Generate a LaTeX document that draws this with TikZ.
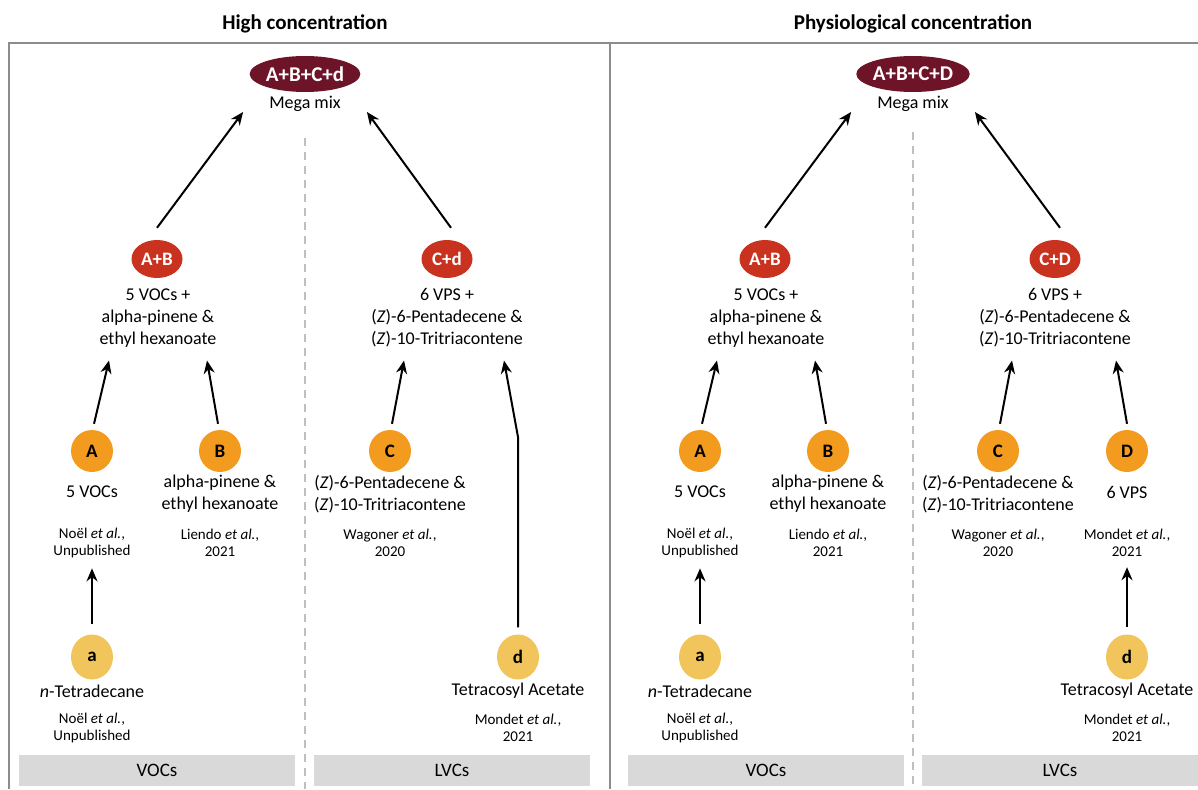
\documentclass[tikz,border=0pt]{standalone}
\usepackage{fontspec}
\setmainfont{Carlito}
\usetikzlibrary{arrows,arrows.meta,shapes.geometric,positioning}
\definecolor{granate}{HTML}{6E1429}
\definecolor{rojo}{HTML}{C8321E}
\definecolor{naranja}{HTML}{F29B1F}
\definecolor{amarillo}{HTML}{F1C55C}
\definecolor{grismarco}{HTML}{8C8C8C}
\definecolor{grisclaro}{HTML}{BFBFBF}
\definecolor{grisfondo}{HTML}{D9D9D9}
\tikzstyle{elipsegranate} = [ellipse, fill=granate, text=white, inner sep=0pt, minimum width=105pt, minimum height=36pt, font=\fontsize{21}{24}\selectfont\bfseries]
\tikzstyle{elipseroja} = [ellipse, fill=rojo, text=white, inner sep=0pt, minimum width=51pt, minimum height=38pt, font=\fontsize{19}{22}\selectfont\bfseries]
\tikzstyle{circnaranja} = [circle, fill=naranja, inner sep=0pt, minimum size=42pt, font=\fontsize{19}{22}\selectfont\bfseries]
\tikzstyle{circamarillo} = [ellipse, fill=amarillo, inner sep=0pt, minimum width=42pt, minimum height=45pt, font=\fontsize{19}{22}\selectfont\bfseries]
\tikzstyle{texto} = [align=center, inner sep=0pt, font=\fontsize{18}{22}\selectfont]
\tikzstyle{cita} = [align=center, inner sep=0pt, font=\fontsize{15}{17.5}\selectfont]
\tikzstyle{titulo} = [inner sep=0pt, font=\fontsize{21}{24}\selectfont\bfseries]
\tikzstyle{rectgris} = [rectangle, fill=grisfondo, inner sep=0pt, minimum width=276pt, minimum height=31pt, font=\fontsize{19}{22}\selectfont]
\tikzstyle{flecha} = [line width=2pt, ->, >={Stealth[length=13pt,width=11pt]}]
\tikzstyle{marco} = [draw=grismarco, line width=1.8pt]
\tikzstyle{divisor} = [draw=grisclaro, line width=1.5pt, dash pattern=on 8pt off 6pt]

\begin{document}
\begin{tikzpicture}[x=1pt, y=-1pt]
	\useasboundingbox (0,0) rectangle (1198,789);
	% Marcos
	\draw[marco] (9,789) -- (9,43) -- (1198,43);
	\draw[marco] (610,43) -- (610,789);
	\draw[divisor] (305,138) -- (305,789);
	\draw[divisor] (913,132) -- (913,789);
	\node (tit1) [titulo] at (305,24) {High concentration};
	\node (tit2) [titulo] at (913,24) {Physiological concentration};
	% Concentracion alta
	\node (mix1) [elipsegranate] at (305,74) {A+B+C+d};
	\node (mixtxt1) [texto] at (305,104) {Mega mix};
	\node (ab1) [elipseroja] at (157,259) {A+B};
	\node (abtxt1) [texto] at (158,318) {5 VOCs +\\alpha-pinene \&\\ethyl hexanoate};
	\node (cd1) [elipseroja] at (447,259) {C+d};
	\node (cdtxt1) [texto] at (447,318) {6 VPS +\\(\textit{Z})-6-Pentadecene \&\\(\textit{Z})-10-Tritriacontene};
	\node (A1) [circnaranja] at (92,451) {A};
	\node (Atxt1) [texto] at (92,492) {5 VOCs};
	\node (Acit1) [cita] at (92,543) {Noël \textit{et al.},\\Unpublished};
	\node (B1) [circnaranja] at (220,451) {B};
	\node (Btxt1) [texto] at (220,494) {alpha-pinene \&\\ethyl hexanoate};
	\node (Bcit1) [cita] at (220,543) {Liendo \textit{et al.},\\2021};
	\node (C1) [circnaranja] at (390,451) {C};
	\node (Ctxt1) [texto] at (390,494) {(\textit{Z})-6-Pentadecene \&\\(\textit{Z})-10-Tritriacontene};
	\node (Ccit1) [cita] at (390,543) {Wagoner \textit{et al.},\\2020};
	\node (a1) [circamarillo] at (92,657) {a};
	\node (atxt1) [texto] at (92,691) {\textit{n}-Tetradecane};
	\node (acit1) [cita] at (92,728) {Noël \textit{et al.},\\Unpublished};
	\node (d1) [circamarillo] at (518,657) {d};
	\node (dtxt1) [texto] at (518,691) {Tetracosyl Acetate};
	\node (dcit1) [cita] at (518,728) {Mondet \textit{et al.},\\2021};
	\node (voc1) [rectgris] at (157,770) {VOCs};
	\node (lvc1) [rectgris] at (452,770) {LVCs};
	% Flechas
	\draw[flecha] ([yshift=10pt]a1.north) -- ([yshift=-10pt]Acit1.south);
	\draw[flecha] ([xshift=2pt,yshift=6pt]A1.north) -- ([xshift=-49pt,yshift=-13pt]abtxt1.south);
	\draw[flecha] ([xshift=-2pt,yshift=6pt]B1.north) -- ([xshift=49pt,yshift=-13pt]abtxt1.south);
	\draw[flecha] ([xshift=2pt,yshift=6pt]C1.north) -- ([xshift=-43pt,yshift=-13pt]cdtxt1.south);
	\draw[flecha] ([yshift=7pt]d1.north) -- (518,437) -- ([xshift=57pt,yshift=-13pt]cdtxt1.south);
	\draw[flecha] ([yshift=12pt]ab1.north) -- ([xshift=-26pt,yshift=-8pt]mixtxt1.west);
	\draw[flecha] ([xshift=4pt,yshift=12pt]cd1.north) -- ([xshift=26pt,yshift=-8pt]mixtxt1.east);
	% Concentracion fisiologica
	\node (mix2) [elipsegranate] at (913,74) {A+B+C+D};
	\node (mixtxt2) [texto] at (913,104) {Mega mix};
	\node (ab2) [elipseroja] at (765,259) {A+B};
	\node (abtxt2) [texto] at (766,318) {5 VOCs +\\alpha-pinene \&\\ethyl hexanoate};
	\node (cd2) [elipseroja] at (1055,259) {C+D};
	\node (cdtxt2) [texto] at (1055,318) {6 VPS +\\(\textit{Z})-6-Pentadecene \&\\(\textit{Z})-10-Tritriacontene};
	\node (A2) [circnaranja] at (700,451) {A};
	\node (Atxt2) [texto] at (700,492) {5 VOCs};
	\node (Acit2) [cita] at (700,543) {Noël \textit{et al.},\\Unpublished};
	\node (B2) [circnaranja] at (828,451) {B};
	\node (Btxt2) [texto] at (828,494) {alpha-pinene \&\\ethyl hexanoate};
	\node (Bcit2) [cita] at (828,543) {Liendo \textit{et al.},\\2021};
	\node (C2) [circnaranja] at (998,451) {C};
	\node (Ctxt2) [texto] at (998,494) {(\textit{Z})-6-Pentadecene \&\\(\textit{Z})-10-Tritriacontene};
	\node (Ccit2) [cita] at (998,543) {Wagoner \textit{et al.},\\2020};
	\node (D2) [circnaranja] at (1127,451) {D};
	\node (Dtxt2) [texto] at (1127,492) {6 VPS};
	\node (Dcit2) [cita] at (1127,543) {Mondet \textit{et al.},\\2021};
	\node (a2) [circamarillo] at (700,657) {a};
	\node (atxt2) [texto] at (700,691) {\textit{n}-Tetradecane};
	\node (acit2) [cita] at (700,728) {Noël \textit{et al.},\\Unpublished};
	\node (d2) [circamarillo] at (1127,657) {d};
	\node (dtxt2) [texto] at (1127,691) {Tetracosyl Acetate};
	\node (dcit2) [cita] at (1127,728) {Mondet \textit{et al.},\\2021};
	\node (voc2) [rectgris] at (766,770) {VOCs};
	\node (lvc2) [rectgris] at (1060,770) {LVCs};
	% Flechas
	\draw[flecha] ([yshift=10pt]a2.north) -- ([yshift=-10pt]Acit2.south);
	\draw[flecha] ([yshift=7pt]d2.north) -- ([yshift=-10pt]Dcit2.south);
	\draw[flecha] ([xshift=2pt,yshift=6pt]A2.north) -- ([xshift=-49pt,yshift=-13pt]abtxt2.south);
	\draw[flecha] ([xshift=-2pt,yshift=6pt]B2.north) -- ([xshift=49pt,yshift=-13pt]abtxt2.south);
	\draw[flecha] ([xshift=2pt,yshift=6pt]C2.north) -- ([xshift=-43pt,yshift=-13pt]cdtxt2.south);
	\draw[flecha] ([yshift=6pt]D2.north) -- ([xshift=61pt,yshift=-13pt]cdtxt2.south);
	\draw[flecha] ([yshift=12pt]ab2.north) -- ([xshift=-26pt,yshift=-8pt]mixtxt2.west);
	\draw[flecha] ([xshift=5pt,yshift=12pt]cd2.north) -- ([xshift=26pt,yshift=-8pt]mixtxt2.east);
\end{tikzpicture}
\end{document}
